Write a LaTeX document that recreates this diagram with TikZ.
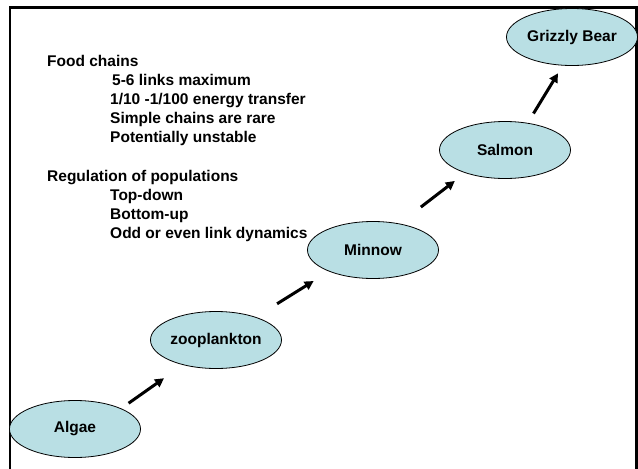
\documentclass[tikz,border=0pt]{standalone}
\usepackage{fontspec}
\setmainfont{Liberation Sans}
\usepackage{tikz}
\usetikzlibrary{positioning,
                arrows.meta,                % arrow tips
                shapes.geometric}           % ellipse nodes

\definecolor{preyblue}{RGB}{185,223,228}

\begin{document}
\begin{tikzpicture}[x=1pt, y=-1pt,
    every node/.style={font=\fontsize{15.5}{18.6}\selectfont\bfseries},
    level/.style={ellipse, draw=black, line width=0.8pt, fill=preyblue,
                  minimum width=131pt, minimum height=57pt, inner sep=0pt},
    note/.style={anchor=base west, inner sep=0pt},
    feeds/.style={-{Triangle[length=9pt,width=9pt]}, line width=3pt}]
    \useasboundingbox (0,0) rectangle (638,469);

    % slide frame, open at the bottom
    \draw[line width=2.6pt] (10,471) -- (10,7.5) -- (636.7,7.5) -- (636.7,471);

    % notes
    \node[note] (chains) at (47,66.5) {Food chains};
    \foreach \txt [count=\i] in {\hspace{2pt}5-6 links maximum,
                                 1/10 -1/100 energy transfer,
                                 Simple chains are rare,
                                 Potentially unstable}
        \node[note] (chain\i) at (110,66.5+19*\i) {\txt};

    \node[note] (regulation) at (47,181) {Regulation of populations};
    \foreach \txt [count=\i] in {Top-down, Bottom-up, Odd or even link dynamics}
        \node[note] (reg\i) at (110,181+19*\i) {\txt};

    % trophic levels
    \node[level] (algae)  at (75,429)  {Algae};
    \node[level] (zoo)    at (216,340) {zooplankton};
    \node[level] (minnow) at (373,250) {Minnow};
    \node[level] (salmon) at (505,150) {Salmon};
    \node[level] (bear)   at (572,37)  {Grizzly Bear};

    \draw[feeds, shorten <=9pt,  shorten >=23pt] (algae.24)  -- (zoo.217);
    \draw[feeds, shorten <=25pt, shorten >=18pt] (zoo.30)    -- (minnow.206);
    \draw[feeds, shorten <=27pt, shorten >=13pt] (minnow.45) -- (salmon.210);
    \draw[feeds, shorten <=11pt, shorten >=9pt]  (salmon.50) -- (bear.252);

\end{tikzpicture}
\end{document}
